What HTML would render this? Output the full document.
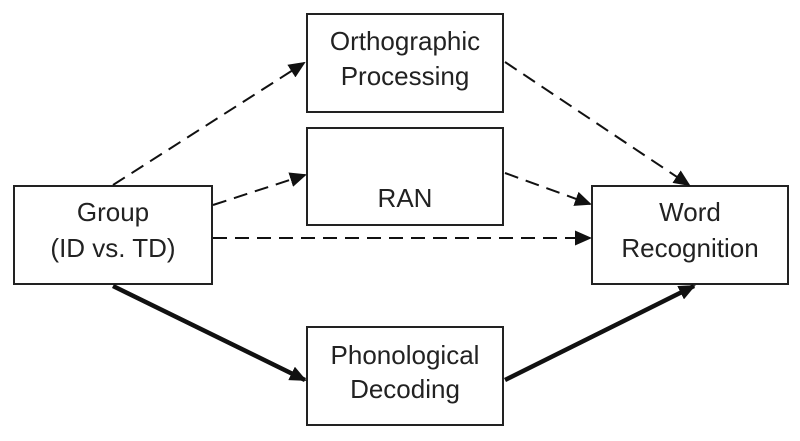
<!DOCTYPE html>
<html><head><meta charset="utf-8"><style>
html,body{margin:0;padding:0;background:#fff;}
svg{display:block;}
text{font-family:"Liberation Sans",Arial,sans-serif;font-size:26px;fill:#222;text-anchor:middle;}
</style></head><body>
<svg width="800" height="441" viewBox="0 0 800 441">
<defs>
<marker id="b" markerWidth="17" markerHeight="15" refX="15" refY="7.5" orient="auto" markerUnits="userSpaceOnUse" viewBox="0 0 17 15">
<path d="M0,0 L17,7.5 L0,15 Z" fill="#111"/></marker>
</defs>
<g fill="none" stroke="#222" stroke-width="2">
<rect x="307" y="14" width="196" height="98"/>
<rect x="307" y="128" width="196" height="97"/>
<rect x="307" y="327" width="196" height="98"/>
<rect x="14" y="186" width="198" height="98"/>
<rect x="592" y="186" width="196" height="98"/>
</g>
<g stroke="#111" stroke-width="2" stroke-dasharray="14,8" fill="none">
<line x1="113" y1="185" x2="304" y2="63" marker-end="url(#b)"/>
<line x1="213" y1="205" x2="305" y2="175" marker-end="url(#b)"/>
<line x1="213" y1="238" x2="590" y2="238" marker-end="url(#b)"/>
<line x1="505" y1="173" x2="590" y2="204" marker-end="url(#b)"/>
<line x1="505" y1="62" x2="689" y2="185" marker-end="url(#b)"/>
</g>
<g stroke="#111" stroke-width="4.5" fill="none">
<line x1="113" y1="286" x2="305" y2="380" marker-end="url(#b)"/>
<line x1="505" y1="380" x2="694" y2="286" marker-end="url(#b)"/>
</g>
<text x="405" y="50">Orthographic</text>
<text x="405" y="85">Processing</text>
<text x="405" y="207">RAN</text>
<text x="113" y="221">Group</text>
<text x="113" y="257">(ID vs. TD)</text>
<text x="690" y="221">Word</text>
<text x="690" y="257">Recognition</text>
<text x="405" y="364">Phonological</text>
<text x="405" y="398">Decoding</text>
</svg>
</body></html>
